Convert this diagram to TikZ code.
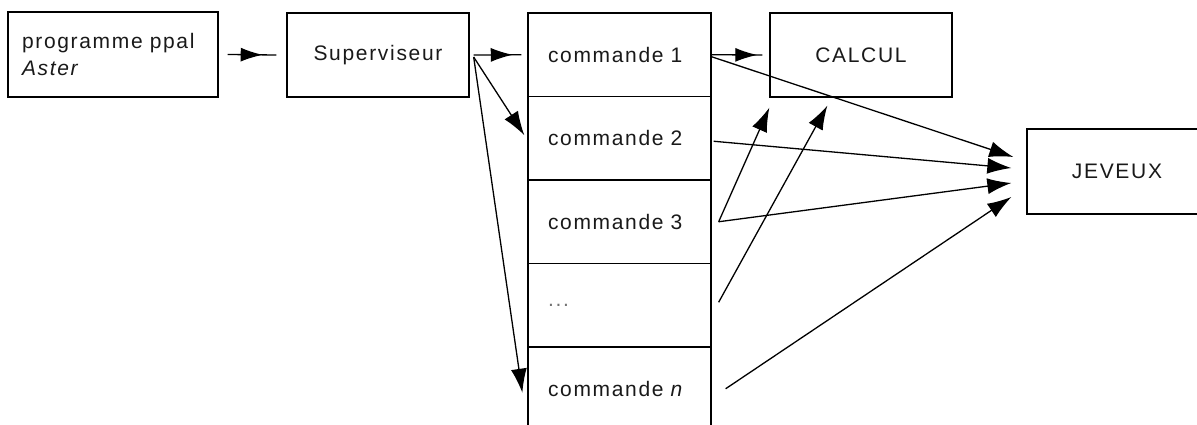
\documentclass[tikz,border=0pt]{standalone}
\usepackage{fontspec}
\setmainfont{Liberation Sans}[LetterSpace=8]
\usetikzlibrary{arrows.meta,calc,decorations.markings}
\tikzset{
  box/.style={draw, line width=1.3pt, rectangle, inner sep=0pt, font=\fontsize{21}{28}\selectfont, text=black!90},
  cmdbox/.style={box, minimum width=183pt, minimum height=83.5pt, text width=143pt, align=left},
  conn/.style={line width=1.3pt},
  tip/.style={-{Latex[length=24pt,width=16pt]}},
  midtip/.style={postaction={decorate}, decoration={markings, mark=at position #1 with {\arrow{Latex[length=22pt,width=14pt]}}}}
}
\begin{document}
\begin{tikzpicture}[x=1pt,y=-1pt]
\useasboundingbox (0,0) rectangle (1197,425);
\clip (0,0) rectangle (1197,425);
\node[box, minimum width=210pt, minimum height=85pt, text width=182pt, align=left] (prog) at (113,54.5) {programme ppal\\[-1pt]\textit{Aster}};
\node[box, minimum width=182pt, minimum height=84pt] (sup) at (378,55) {Superviseur};
\node[cmdbox] (c1) at (619.5,54.75) {commande 1};
\node[cmdbox] (c2) at (619.5,138.25) {commande 2};
\node[cmdbox] (c3) at (619.5,221.75) {commande 3};
\node[cmdbox] (c4) at (619.5,305.25) {\color{black!55}...};
\node[cmdbox] (cn) at (619.5,388.75) {commande \textit{n}};
\node[box, minimum width=182pt, minimum height=84pt] (calc) at (861,55) {CALCUL};
\node[box, minimum width=180pt, minimum height=85pt] (jev) at (1117,171.5) {JEVEUX};

\draw[conn, midtip=0.72] ($(prog.east)+(9,0)$) -- ($(sup.west)+(-10,0)$);
\draw[conn, midtip=0.82] ($(sup.east)+(4,0)$) -- ($(c1.west)+(-6,0)$);
\draw[conn, midtip=0.9] (c1.east) -- ($(calc.west)+(-7,0)$);

\draw[conn, tip] ($(sup.east)+(4,2)$) -- ($(c2.west)+(-3,-3)$);
\draw[conn, tip] ($(sup.east)+(4,2)$) -- ($(cn.west)+(-5,4)$);

\draw[conn, tip] ($(c1.east)+(0,2)$) -- ($(jev.west)+(-13,-14.5)$);
\draw[conn, tip] ($(c2.east)+(2,3)$) -- ($(jev.west)+(-15,-3.5)$);
\draw[conn, tip] ($(c3.east)+(7,0)$) -- ($(jev.west)+(-15,11.5)$);
\draw[conn, tip] ($(cn.east)+(14,0)$) -- ($(jev.west)+(-15,25.5)$);

\draw[conn, tip] ($(c3.east)+(7,0)$) -- ($(calc.south west)+(0,10)$);
\draw[conn, tip] ($(c4.east)+(7,-3)$) -- ($(calc.south west)+(58,8)$);
\end{tikzpicture}
\end{document}
